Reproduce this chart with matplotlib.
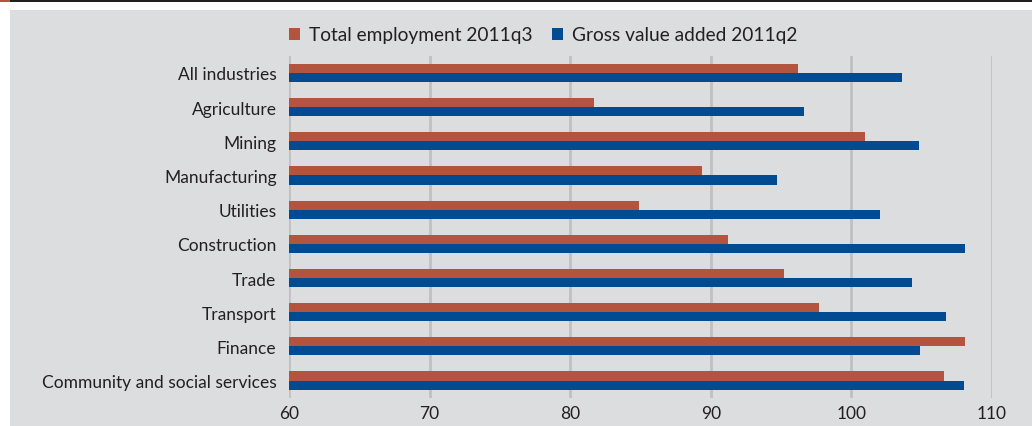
import matplotlib.pyplot as plt
from matplotlib.patches import Rectangle
import numpy as np

plt.rcParams['font.family'] = ['Lato', 'DejaVu Sans']

industries = ["All industries", "Agriculture", "Mining", "Manufacturing", "Utilities",
              "Construction", "Trade", "Transport", "Finance",
              "Community and social services"]
employment = [96.2, 81.7, 101.0, 89.4, 84.9, 91.2, 95.2, 97.7, 108.1, 106.6]
gva = [103.6, 96.6, 104.8, 94.7, 102.0, 108.1, 104.3, 106.7, 104.9, 108.0]
xticks = [60, 70, 80, 90, 100, 110]

red = "#B3543F"
blue = "#004B91"
panel = "#DCDDDF"
grid = "#BFC0C2"
text = "#231F20"

fig = plt.figure(figsize=(10.32, 4.27), dpi=100)
fig.patch.set_facecolor("white")

# grey panel, top rule
fig.patches.append(Rectangle((10 / 1032, 0), 1, (427 - 11) / 427, transform=fig.transFigure,
                             facecolor=panel, edgecolor="none", zorder=-10))
fig.patches.append(Rectangle((0, (427 - 3) / 427), 1, 3 / 427, transform=fig.transFigure,
                             facecolor="#231F20", edgecolor="none", zorder=-10))
fig.patches.append(Rectangle((0, (427 - 3) / 427), 10 / 1032, 3 / 427, transform=fig.transFigure,
                             facecolor=red, edgecolor="none", zorder=-9))

ax = fig.add_axes([289 / 1032, 28.4 / 427, 703 / 1032, 341.7 / 427])
ax.set_facecolor("none")

y = np.arange(len(industries))
h = 0.265
ax.barh(y - h / 2, employment, height=h, color=red, label="Total employment 2011q3", zorder=3)
ax.barh(y + h / 2, gva, height=h, color=blue, label="Gross value added 2011q2", zorder=3)

ax.set_xlim(60, 110)
ax.set_ylim(len(industries) - 0.5, -0.5)
ax.set_xticks(xticks)
ax.set_yticks(y)
ax.set_yticklabels(industries)
ax.tick_params(axis="y", length=0, pad=9, labelsize=12.5, labelcolor=text)
ax.tick_params(axis="x", length=0, pad=5, labelsize=12.5, labelcolor=text)
ax.grid(axis="x", color=grid, linewidth=2, zorder=0)
for s in ax.spines.values():
    s.set_visible(False)

leg = fig.legend(loc="center", bbox_to_anchor=(543 / 1032, 1 - 36 / 427), ncol=2, frameon=False,
                 fontsize=13.8, handlelength=0.6, handleheight=0.6, handletextpad=0.45,
                 columnspacing=1.0, labelcolor=text)

fig.savefig("out.png", dpi=100, facecolor="white")
